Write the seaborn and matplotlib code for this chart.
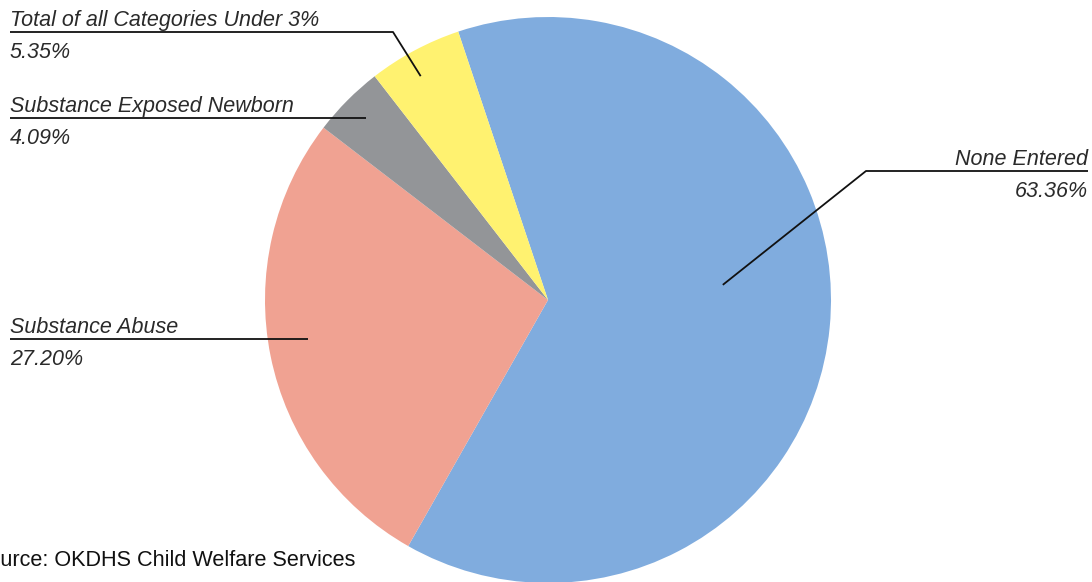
import numpy as np
import matplotlib
matplotlib.use("Agg")
import matplotlib.pyplot as plt
import seaborn as sns

# data
categories = ["None Entered", "Substance Abuse", "Substance Exposed Newborn",
              "Total of all Categories Under 3%"]
shares = [63.36, 27.20, 4.09, 5.35]
pct_labels = ["63.36%", "27.20%", "4.09%", "5.35%"]
colors = ["#80acde", "#f0a292", "#939598", "#fff270"]

sns.set_theme(style="white")
plt.rcParams['font.family'] = ['Liberation Sans', 'DejaVu Sans']

W, H = 1092, 582
fig = plt.figure(figsize=(W / 100, H / 100), dpi=100)
ax = fig.add_axes([0, 0, 1, 1])

cx, cy, r = 548, H - 300, 283
start = 108.5
wedges, _ = ax.pie(shares, colors=sns.color_palette(colors), startangle=start,
                   counterclock=False, center=(cx, cy), radius=r, frame=True,
                   wedgeprops=dict(linewidth=0))
ax.set_xlim(0, W)
ax.set_ylim(0, H)
ax.set_aspect("equal")
ax.axis("off")

# label layout: (anchor radius fraction, angle nudge, text x, line y (px), elbow x, align)
layout = [
    (0.62, 10.5, 1088, 171, 866, "right"),
    (0.86, -2.0, 10, 339, None, "left"),
    (0.91, 0.0, 10, 118, None, "left"),
    (0.91, 1.5, 10, 32, 393, "left"),
]

txt_kw = dict(fontsize=15.5, style="italic", color="#2a2a2a")
for w, name, pct, (fr, nudge, tx, ly, ex, ha) in zip(wedges, categories, pct_labels, layout):
    mid = np.deg2rad((w.theta1 + w.theta2) / 2 + nudge)
    axp, ayp = cx + fr * r * np.cos(mid), cy + fr * r * np.sin(mid)
    ly_d = H - ly
    if ex is None:
        xs, ys = [tx, axp], [ly_d, ly_d]
    elif ha == "right":
        xs, ys = [axp, ex, tx], [ayp, ly_d, ly_d]
    else:
        xs, ys = [tx, ex, axp], [ly_d, ly_d, ayp]
    ax.plot(xs, ys, color="#111111", lw=1.3, solid_capstyle="butt")
    ax.text(tx, ly_d + 6, name, ha=ha, va="baseline", **txt_kw)
    ax.text(tx, ly_d - 10, pct, ha=ha, va="top", **txt_kw)

ax.text(-26, H - 561, "Source: OKDHS Child Welfare Services", ha="left", va="center",
        fontsize=15.6, color="#111111")

fig.savefig("out.png", dpi=100)
